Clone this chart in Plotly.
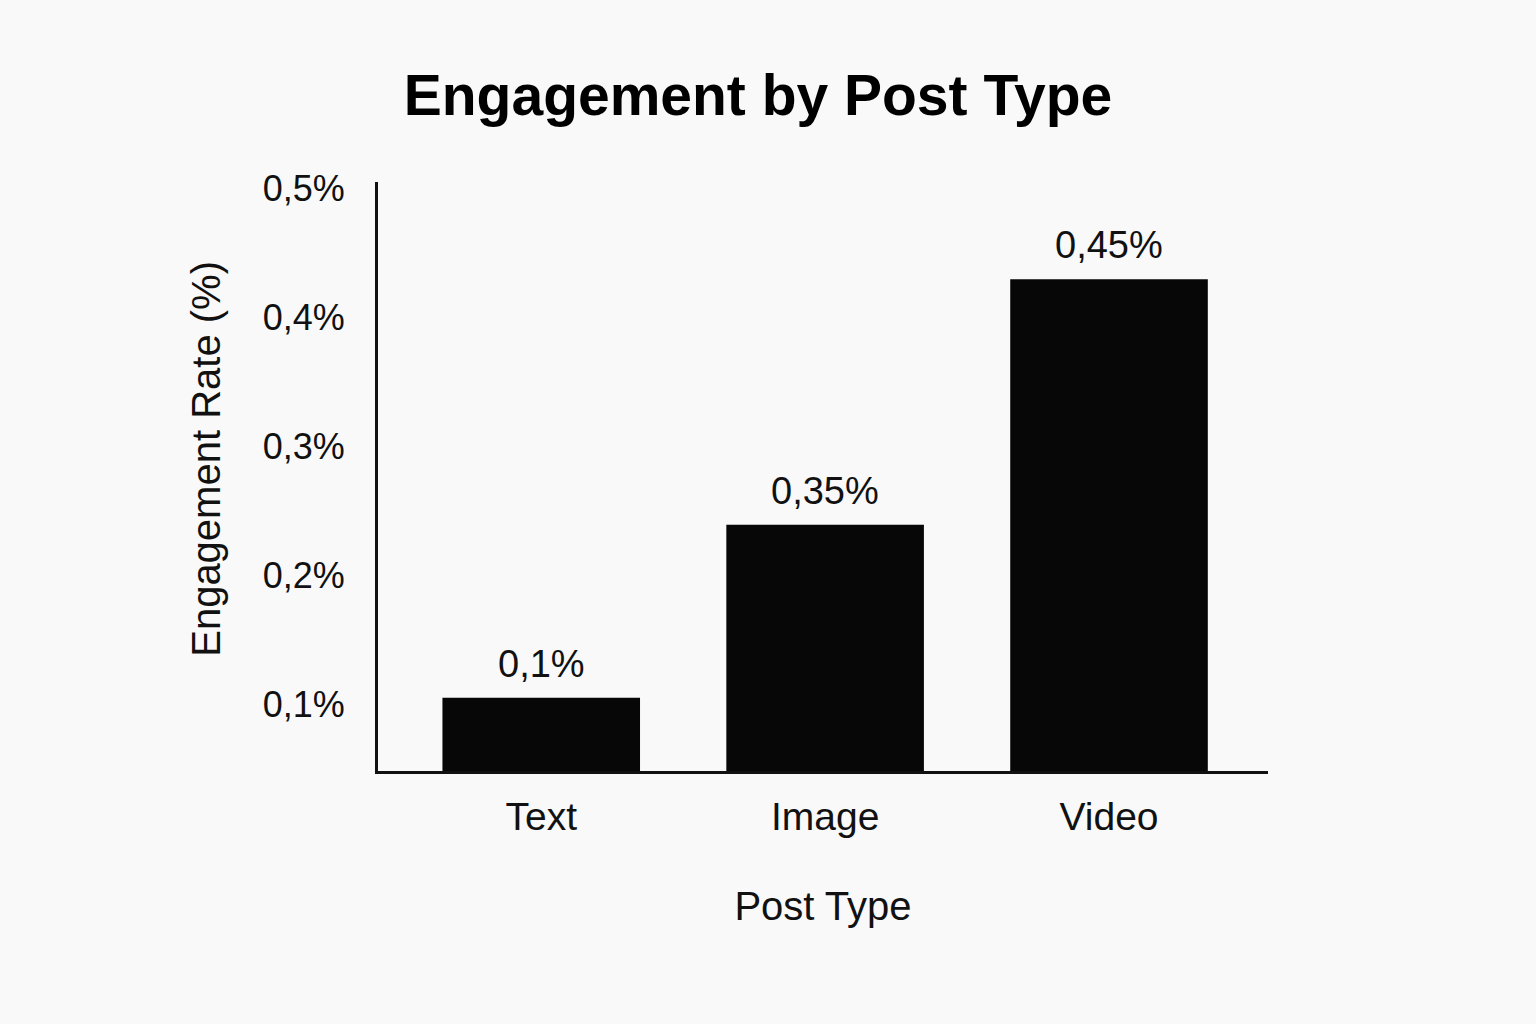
import plotly.graph_objects as go

# Data
post_types = ["Text", "Image", "Video"]
bar_heights = [0.1055, 0.2395, 0.4295]
bar_labels = ["0,1%", "0,35%", "0,45%"]
tick_values = [0.1, 0.2, 0.3, 0.4, 0.5]
tick_labels = ["0,1%", "0,2%", "0,3%", "0,4%", "0,5%"]

font_family = "Liberation Sans, Arial, Helvetica, sans-serif"

fig = go.Figure()

fig.add_trace(go.Bar(x=post_types, y=bar_heights, width=0.696,
                     marker=dict(color="#070707", line=dict(width=0)),
                     showlegend=False, hoverinfo="skip"))

# Value labels above each bar
for cat, h, lab in zip(post_types, bar_heights, bar_labels):
    fig.add_annotation(x=cat, y=h, text=lab, showarrow=False,
                       yanchor="bottom", yshift=11,
                       font=dict(family=font_family, size=38, color="#111111"))

# y axis title (placed by hand, it sits a bit above the plot centre)
fig.add_annotation(text="Engagement Rate (%)", xref="paper", yref="paper",
                   x=-0.1933, y=0.53, xanchor="center", yanchor="middle",
                   textangle=-90, showarrow=False,
                   font=dict(family=font_family, size=40, color="#111111"))

fig.update_layout(
    width=1536, height=1024,
    paper_bgcolor="#f9f9f9", plot_bgcolor="#f9f9f9",
    margin=dict(l=378, r=268, t=182, b=253),
    title=dict(text="<b>Engagement by Post Type</b>", x=758 / 1536, xanchor="center",
               xref="container", y=0.907, yanchor="middle",
               font=dict(family=font_family, size=57, color="#000000")),
    font=dict(family=font_family, color="#111111"),
)

fig.update_xaxes(range=[-0.575, 2.56], showline=True, linecolor="#111111",
                 linewidth=3, showgrid=False, zeroline=False, ticks="",
                 tickfont=dict(size=39), ticklabelstandoff=9,
                 title=dict(text="Post Type", font=dict(size=40), standoff=56))

fig.update_yaxes(range=[0.0488, 0.5047], showline=True, linecolor="#111111",
                 linewidth=3, showgrid=False, zeroline=False, ticks="",
                 tickvals=tick_values, ticktext=tick_labels,
                 tickfont=dict(size=36), ticklabelstandoff=23)

# remove the default page margin so the figure fills the window
fig.write_html("out.html", config={"displayModeBar": False},
               post_script="document.body.style.margin='0';document.body.style.background='#f9f9f9';")
